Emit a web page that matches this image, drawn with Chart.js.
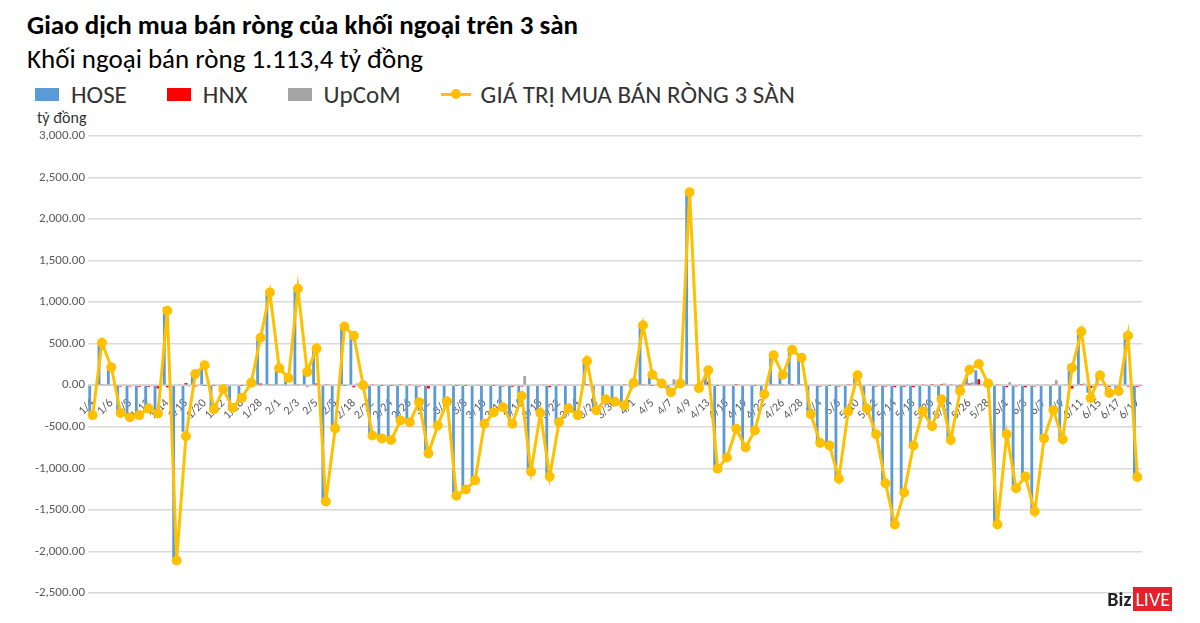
<!DOCTYPE html>
<html>
<head>
<meta charset="utf-8">
<script src="https://cdn.jsdelivr.net/npm/chart.js@4"></script>
<style>
  body { margin: 0; width: 1200px; height: 623px; background: #fff; font-family: Calibri, Carlito, "Open Sans", sans-serif; position: relative; overflow: hidden; }
  #title { position: absolute; left: 27px; top: 8px; font-size: 27px; font-weight: bold; color: #000; }
  #sub { position: absolute; left: 27px; top: 42px; font-size: 27px; color: #000; }
  #legend { position: absolute; left: 35px; top: 79px; font-size: 25px; color: #333; display: flex; align-items: center; }
  #legend span.box { display: inline-block; width: 24px; height: 13px; margin-right: 12px; }
  #legend span.item { display: flex; align-items: center; margin-right: 40px; }
  #unit { position: absolute; left: 37px; top: 108px; font-size: 16px; color: #333; }
  #wrap { position: absolute; left: 0; top: 125px; width: 1200px; height: 498px; }
  #logo { position: absolute; right: 28px; bottom: 12px; font-size: 20px; font-weight: bold; color: #222; display: flex; align-items: center; }
  #logo span { background: #e4222a; color: #fff; font-weight: normal; padding: 0 2px; margin-left: 2px; }
</style>
</head>
<body>
<div id="title">Giao dịch mua bán ròng của khối ngoại trên 3 sàn</div>
<div id="sub">Khối ngoại bán ròng 1.113,4 tỷ đồng</div>
<div id="legend">
  <span class="item"><span class="box" style="background:#5B9BD5"></span>HOSE</span>
  <span class="item"><span class="box" style="background:#FF0000"></span>HNX</span>
  <span class="item"><span class="box" style="background:#A5A5A5"></span>UpCoM</span>
  <span class="item"><span style="display:inline-block;width:30px;height:3px;background:#FFC000;position:relative;margin-right:10px"><span style="position:absolute;left:10px;top:-4px;width:10px;height:10px;border-radius:50%;background:#FFC000"></span></span>GIÁ TRỊ MUA BÁN RÒNG 3 SÀN</span>
</div>
<div id="unit">tỷ đồng</div>
<div id="wrap"><canvas id="myChart"></canvas></div>
<div id="logo">Biz<span>LIVE</span></div>
<script>
'use strict';

// data

let dates = ['1/4','1/5','1/6','1/7','1/8','1/11','1/12','1/13','1/14','1/15',
  '1/18','1/19','1/20','1/21','1/22','1/25','1/26','1/27','1/28','1/29',
  '2/1','2/2','2/3','2/4','2/5','2/7','2/8','2/17','2/18','2/19',
  '2/22','2/23','2/24','2/25','2/26','3/1','3/2','3/3','3/4','3/5',
  '3/8','3/9','3/10','3/11','3/12','3/15','3/16','3/17','3/18','3/19',
  '3/22','3/23','3/24','3/25','3/26','3/29','3/30','3/31','4/1','4/2',
  '4/5','4/6','4/7','4/8','4/9','4/12','4/13','4/14','4/15','4/16',
  '4/19','4/21','4/22','4/23','4/26','4/27','4/28','4/29','5/4','5/5',
  '5/6','5/7','5/10','5/11','5/12','5/13','5/14','5/17','5/18','5/19',
  '5/20','5/21','5/24','5/25','5/26','5/27','5/28','5/31','6/1','6/2',
  '6/3','6/4','6/7','6/8','6/9','6/10','6/11','6/14','6/15','6/16',
  '6/17','6/18','6/19'];

let totalValues = [-360, 510, 215, -335, -385, -360, -280, -340, 895, -2110,
  -615, 135, 240, -290, -50, -270, -150, 30, 570, 1115,
  205, 85, 1160, 160, 440, -1400, -520, 705, 595, 0,
  -605, -640, -660, -425, -445, -205, -820, -485, -195, -1330,
  -1255, -1145, -465, -325, -265, -465, -130, -1040, -335, -1100,
  -445, -280, -360, 290, -300, -170, -200, -240, 30, 720,
  125, 20, -85, 20, 2320, -35, 180, -1005, -870, -525,
  -750, -545, -110, 360, 125, 425, 330, -350, -695, -725,
  -1125, -315, 120, -280, -590, -1180, -1675, -1290, -725, -315,
  -495, -170, -660, -70, 185, 255, 20, -1675, -590, -1240,
  -1100, -1520, -640, -300, -650, 210, 645, -155, 120, -95,
  -70, 595, -1105];

let hoseValues = [-350, 500, 225, -320, -370, -345, -265, -300, 940, -2090,
  -560, 150, 250, -285, -40, -260, -145, 15, 540, 1090,
  210, 95, 1150, 175, 420, -1410, -505, 700, 600, 10,
  -600, -635, -650, -420, -450, -190, -790, -470, -185, -1330,
  -1250, -1140, -455, -320, -250, -445, -235, -1030, -330, -1080,
  -440, -270, -350, 280, -290, -160, -190, -250, -30, 710,
  130, 40, -85, 15, 2320, -60, 130, -1000, -860, -530,
  -740, -540, -100, 345, 120, 410, 325, -340, -680, -720,
  -1110, -330, 110, -275, -580, -1170, -1650, -1265, -710, -310,
  -490, -205, -655, -60, 130, 180, 10, -1690, -600, -1230,
  -1080, -1510, -640, -310, -645, 250, 610, -90, 100, -75,
  -50, 630, -1080];

let hnxValues = [-10, 5, -10, -15, -15, -20, -20, -40, -25, -10,
  25, -15, -5, -5, -15, -10, -5, -5, 20, 10,
  -10, -10, 5, -15, 20, 5, -10, -5, -25, -5,
  5, -5, -5, 5, 10, -15, -40, -10, -10, -5,
  -5, 0, -10, -5, -15, -20, -15, -10, -10, -25,
  5, -10, -10, 15, -10, -10, 0, 10, 10, 5,
  -5, -20, 0, -10, 0, 25, 40, -5, -10, 15,
  -10, -5, -10, 10, 5, 15, 5, -10, -15, -5,
  -15, 5, 10, -10, -15, -15, -25, -20, -25, 5,
  15, 15, 5, -5, 20, 70, 10, 10, -25, -15,
  -25, -15, -10, 10, -10, -40, 15, -35, 5, -20,
  -20, -15, -20];

let upcomValues = [0, 5, 0, 0, 0, 0, -10, 0, 0, 10,
  -15, 0, -10, 0, 5, 0, 0, 20, 10, 15,
  5, 0, 5, 0, 0, 5, -5, 10, 20, -5,
  0, 0, -5, -10, 0, 0, 10, 0, 5, 5,
  0, -5, 0, 0, 0, 0, 110, 0, 5, 5,
  0, 0, 0, -5, 0, 0, -10, 0, 50, 5,
  0, 0, 70, 15, 0, 0, 10, 0, 0, 0,
  0, 0, 0, 5, 0, 0, 0, 0, 0, 0,
  0, 10, 0, 5, 5, 5, 0, -5, 10, -5,
  -20, 20, -10, -5, 35, 5, 0, 5, 35, 5,
  5, 5, 10, 60, 5, 0, 20, -30, 15, 0,
  0, -20, -5];

let yTicks = { min: -2500, max: 3000, step: 500 };

// chart

function formatTick(value) {
  return value.toLocaleString('en-US', { minimumFractionDigits: 2, maximumFractionDigits: 2 });
}

function renderChart() {
  const ctx = document.getElementById('myChart').getContext('2d');

  const barOpts = { categoryPercentage: 0.95, barPercentage: 0.95, order: 1, type: 'bar' };

  new Chart(ctx, {
    data: {
      labels: dates,
      datasets: [
        Object.assign({ label: 'HOSE', data: hoseValues, backgroundColor: '#5B9BD5' }, barOpts),
        Object.assign({ label: 'HNX', data: hnxValues, backgroundColor: '#FF0000' }, barOpts),
        Object.assign({ label: 'UpCoM', data: upcomValues, backgroundColor: '#A5A5A5' }, barOpts),
        {
          type: 'line',
          label: 'GIÁ TRỊ MUA BÁN RÒNG 3 SÀN',
          data: totalValues,
          borderColor: '#FFC000',
          backgroundColor: '#FFC000',
          borderWidth: 3,
          pointRadius: 3.5,
          tension: 0,
          order: 0,
        },
      ],
    },
    options: {
      responsive: true,
      maintainAspectRatio: false,
      animation: false,
      layout: { padding: { top: 5, right: 58, bottom: 30, left: 0 } },
      plugins: { legend: { display: false }, tooltip: { enabled: false } },
      scales: {
        x: {
          position: { y: 0 },
          grid: { display: false },
          border: { color: '#d0d0d0' },
          ticks: {
            autoSkip: false,
            maxRotation: 45,
            minRotation: 45,
            color: '#595959',
            font: { size: 12, family: 'Calibri, Carlito, "Open Sans", sans-serif' },
            callback: function (v, i) { return i % 2 === 0 ? dates[i] : ''; },
          },
        },
        y: {
          min: yTicks.min,
          max: yTicks.max,
          afterFit: function (scale) { scale.width = 88; },
          ticks: {
            stepSize: yTicks.step,
            color: '#595959',
            font: { size: 13, family: 'Calibri, Carlito, "Open Sans", sans-serif' },
            callback: formatTick,
          },
          grid: { color: '#d9d9d9', lineWidth: 1.5, drawTicks: false },
          border: { display: false },
        },
      },
    },
  });
}

renderChart();
</script>
</body>
</html>
